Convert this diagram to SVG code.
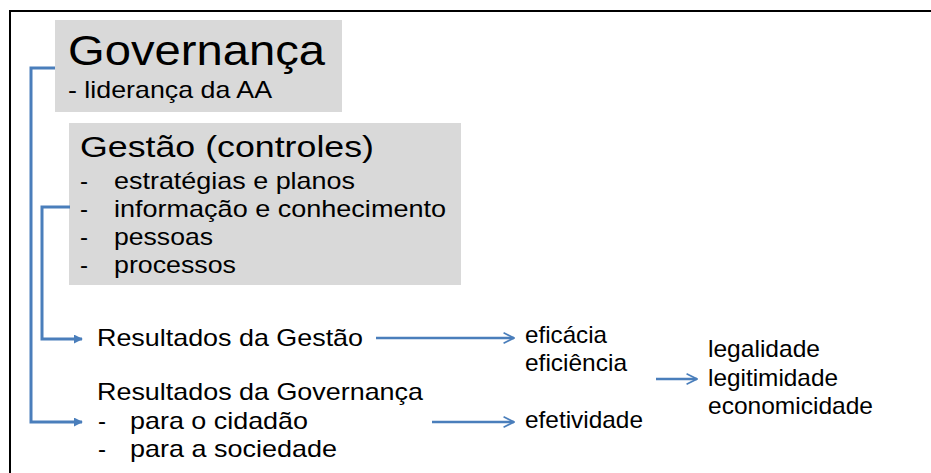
<svg xmlns="http://www.w3.org/2000/svg" width="931" height="473" viewBox="0 0 931 473">
<defs>
<style>
text{font-family:"Liberation Sans",Arial,sans-serif;fill:#000;}
.s{font-size:24px;}
.box{fill:#d9d9d9;}
.br{fill:none;stroke:#4a7ebb;stroke-width:3;}
.ar{fill:none;stroke:#4a7ebb;stroke-width:2.5;}
</style>
<marker id="tri" viewBox="0 0 10 10" refX="9" refY="5" markerWidth="3" markerHeight="3" orient="auto" markerUnits="strokeWidth">
<path d="M0,0 L10,5 L0,10 Z" fill="#4a7ebb"/>
</marker>
<marker id="vee" viewBox="0 0 12 12" refX="11" refY="6" markerWidth="5" markerHeight="5" orient="auto" markerUnits="strokeWidth">
<path d="M1,1 L11,6 L1,11" fill="none" stroke="#4a7ebb" stroke-width="1.6"/>
</marker>
</defs>
<rect width="931" height="473" fill="#fff"/>
<path d="M10,473 V11 H931" fill="none" stroke="#000" stroke-width="2"/>
<g id="governanca">
<rect class="box" x="55" y="20" width="287" height="92"/>
<text x="68" y="65" font-size="42" textLength="257" lengthAdjust="spacingAndGlyphs">Governança</text>
<text class="s" x="68" y="98" textLength="204" lengthAdjust="spacingAndGlyphs">- liderança da AA</text>
</g>
<g id="gestao">
<rect class="box" x="69" y="123" width="392" height="162"/>
<text x="80" y="157" font-size="29" textLength="294" lengthAdjust="spacingAndGlyphs">Gestão (controles)</text>
<text class="s" x="80" y="189">-</text><text class="s" x="114" y="189" textLength="241" lengthAdjust="spacingAndGlyphs">estratégias e planos</text>
<text class="s" x="80" y="217">-</text><text class="s" x="114" y="217" textLength="332" lengthAdjust="spacingAndGlyphs">informação e conhecimento</text>
<text class="s" x="80" y="245">-</text><text class="s" x="114" y="245" textLength="99" lengthAdjust="spacingAndGlyphs">pessoas</text>
<text class="s" x="80" y="273">-</text><text class="s" x="114" y="273" textLength="122" lengthAdjust="spacingAndGlyphs">processos</text>
</g>
<g id="resultados-gestao">
<text class="s" x="97" y="346" textLength="266" lengthAdjust="spacingAndGlyphs">Resultados da Gestão</text>
</g>
<g id="resultados-governanca">
<text class="s" x="97" y="400" textLength="326" lengthAdjust="spacingAndGlyphs">Resultados da Governança</text>
<text class="s" x="98" y="429">-</text><text class="s" x="130" y="429" textLength="178" lengthAdjust="spacingAndGlyphs">para o cidadão</text>
<text class="s" x="98" y="457">-</text><text class="s" x="130" y="457" textLength="207" lengthAdjust="spacingAndGlyphs">para a sociedade</text>
</g>
<g id="eficacia">
<text class="s" x="525" y="343" textLength="82" lengthAdjust="spacingAndGlyphs">eficácia</text>
<text class="s" x="525" y="371" textLength="102" lengthAdjust="spacingAndGlyphs">eficiência</text>
</g>
<g id="efetividade">
<text class="s" x="525" y="428" textLength="118" lengthAdjust="spacingAndGlyphs">efetividade</text>
</g>
<g id="legalidade">
<text class="s" x="708" y="357" textLength="112" lengthAdjust="spacingAndGlyphs">legalidade</text>
<text class="s" x="708" y="386" textLength="130" lengthAdjust="spacingAndGlyphs">legitimidade</text>
<text class="s" x="708" y="414" textLength="165" lengthAdjust="spacingAndGlyphs">economicidade</text>
</g>
<g id="connectors">
<path class="br" d="M55,68 H31 V422 H82" marker-end="url(#tri)"/>
<path class="br" d="M70,207 H42 V339 H82" marker-end="url(#tri)"/>
<path class="ar" d="M376,338 H514" marker-end="url(#vee)"/>
<path class="ar" d="M432,422 H514" marker-end="url(#vee)"/>
<path class="ar" d="M656,379 H697" marker-end="url(#vee)"/>
</g>
</svg>
